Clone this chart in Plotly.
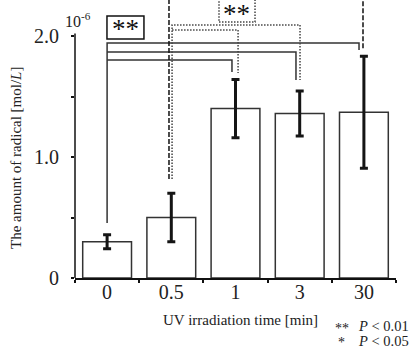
import plotly.graph_objects as go

# Radical amount per UV irradiation time (x10^-6 mol/L)
categories = ["0", "0.5", "1", "3", "30"]
means = [0.30, 0.50, 1.40, 1.36, 1.37]
sds = [0.058, 0.20, 0.24, 0.186, 0.463]
y_tick_vals = [0, 1.0, 2.0]
y_tick_text = ["0", "1.0", "2.0"]
y_minor_vals = [0.5, 1.5]

SERIF = "Liberation Serif"
INK = "#222222"
LINE = "#333333"

xs = list(range(len(categories)))

fig = go.Figure()
fig.add_trace(go.Bar(
    x=xs, y=means, width=0.76,
    marker=dict(color="white", line=dict(color=LINE, width=1.5)),
    error_y=dict(type="data", array=sds, visible=True,
                 thickness=3, width=4, color="#151515"),
    showlegend=False, hoverinfo="skip",
))

shapes = []

def bracket(points, dash="solid", color=LINE, width=1.5):
    path = "M " + " L ".join(f"{x},{y}" for x, y in points)
    shapes.append(dict(type="path", path=path, xref="x", yref="y",
                       line=dict(color=color, width=width, dash=dash),
                       layer="above"))

# 0 min vs 1 / 3 / 30 min (solid)
bracket([(0, 0.455), (0, 1.942), (3.924, 1.942), (3.924, 1.884)])
bracket([(0, 1.868), (2.942, 1.868), (2.942, 1.636)])
bracket([(0, 1.802), (1.945, 1.802), (1.945, 1.702)])

# 0.5 min vs 1 / 3 min (dotted)
DOT = "1.5px,1.5px"
bracket([(1.012, 0.818), (1.012, 2.091), (3.005, 2.091), (3.005, 1.636)],
        dash=DOT, color="#444444", width=1.5)
bracket([(1.012, 2.05), (2.04, 2.05), (2.04, 1.694)],
        dash=DOT, color="#444444", width=1.5)

# 0.5 min vs 30 min (dashed)
bracket([(0.964, 0.818), (0.964, 2.40), (3.986, 2.40), (3.986, 1.884)],
        dash="5px,2px", color="#111111", width=1.5)

# significance boxes
shapes.append(dict(type="rect", xref="x", yref="y",
                   x0=-0.002, x1=0.574, y0=1.975, y1=2.165,
                   line=dict(color="#111111", width=1.5), fillcolor="white",
                   layer="above"))
shapes.append(dict(type="rect", xref="x", yref="y",
                   x0=1.743, x1=2.304, y0=2.116, y1=2.40,
                   line=dict(color="#444444", width=1.5, dash=DOT),
                   fillcolor="white", layer="above"))

# y axis line, stopping just above 2.0
shapes.append(dict(type="line", xref="paper", yref="y",
                   x0=0, x1=0, y0=0, y1=2.02,
                   line=dict(color="#111111", width=1.5)))

annotations = [
    dict(text="**", x=0.286, y=2.06, xref="x", yref="y", showarrow=False,
         font=dict(family=SERIF, size=27, color="#111111")),
    dict(text="**", x=2.023, y=2.185, xref="x", yref="y", showarrow=False,
         font=dict(family=SERIF, size=27, color="#111111")),
    dict(text="10<sup>-6</sup>", x=(63 - 75) / 321, y=2.13, xref="paper", yref="y",
         xanchor="left", yanchor="middle", showarrow=False,
         font=dict(family=SERIF, size=16, color=INK)),
    # axis titles
    dict(text="The amount of radical [mol/<i>L</i>]", textangle=-90,
         x=(16 - 75) / 321, y=(278 - 158) / 278, xref="paper", yref="paper",
         xanchor="center", yanchor="middle", showarrow=False,
         font=dict(family=SERIF, size=15, color=INK)),
    dict(text="UV irradiation time [min]",
         x=(241 - 75) / 321, y=(278 - 320) / 278, xref="paper", yref="paper",
         xanchor="center", yanchor="middle", showarrow=False,
         font=dict(family=SERIF, size=15, color=INK)),
    # significance key
    dict(text="**", x=(342 - 75) / 321, y=(278 - 328) / 278, xref="paper", yref="paper",
         xanchor="center", yanchor="middle", showarrow=False,
         font=dict(family=SERIF, size=14, color=INK)),
    dict(text="<i>P</i> < 0.01", x=(356 - 75) / 321, y=(278 - 326) / 278,
         xref="paper", yref="paper", xanchor="left", yanchor="middle",
         showarrow=False, font=dict(family=SERIF, size=14.5, color=INK)),
    dict(text="*", x=(341 - 75) / 321, y=(278 - 343) / 278, xref="paper", yref="paper",
         xanchor="center", yanchor="middle", showarrow=False,
         font=dict(family=SERIF, size=14, color=INK)),
    dict(text="<i>P</i> < 0.05", x=(356 - 75) / 321, y=(278 - 341) / 278,
         xref="paper", yref="paper", xanchor="left", yanchor="middle",
         showarrow=False, font=dict(family=SERIF, size=14.5, color=INK)),
]

fig.update_layout(
    width=411, height=350,
    margin=dict(l=75, r=15, t=0, b=72, autoexpand=False),
    paper_bgcolor="white", plot_bgcolor="white",
    font=dict(family=SERIF, color=INK),
    shapes=shapes, annotations=annotations,
    xaxis=dict(
        range=[-0.5, 4.5], tickvals=xs, ticktext=categories,
        ticks="", showgrid=False, zeroline=False,
        showline=True, linecolor="#111111", linewidth=1.5,
        tickfont=dict(family=SERIF, size=20, color=INK),
        ticklabelstandoff=-5,
        minor=dict(tickvals=[-0.5, 0.5, 1.5, 2.5, 3.5, 4.5], ticks="outside",
                   ticklen=3, tickwidth=1.5, tickcolor="#111111"),
        automargin=False, fixedrange=True,
    ),
    yaxis=dict(
        range=[0, 278 / 121], tickvals=y_tick_vals, ticktext=y_tick_text,
        ticks="outside", ticklen=3, tickwidth=1.5, tickcolor="#111111",
        showgrid=False, zeroline=False, showline=False,
        tickfont=dict(family=SERIF, size=20, color=INK),
        ticklabelstandoff=8,
        minor=dict(tickvals=y_minor_vals, ticks="outside",
                   ticklen=3, tickwidth=1.5, tickcolor="#111111"),
        automargin=False, fixedrange=True,
    ),
)

fig.write_html("out.html")
